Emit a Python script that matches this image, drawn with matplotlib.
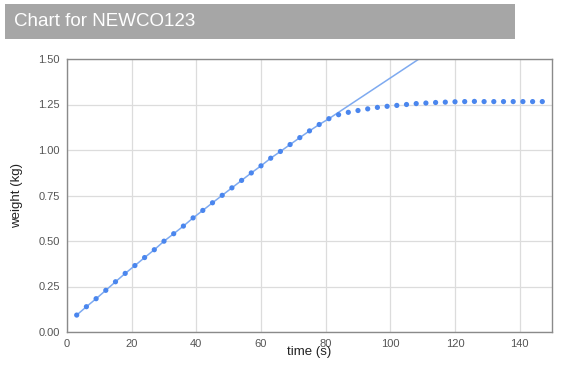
import matplotlib
matplotlib.use('Agg')
import matplotlib.pyplot as plt
from matplotlib.patches import Rectangle

plt.rcParams['font.family'] = ['Liberation Sans', 'DejaVu Sans']

# measured weights, every 3 s
time_s = [3, 6, 9, 12, 15, 18, 21, 24, 27, 30, 33, 36, 39, 42, 45, 48, 51,
          54, 57, 60, 63, 66, 69, 72, 75, 78, 81, 84, 87, 90, 93, 96, 99,
          102, 105, 108, 111, 114, 117, 120, 123, 126, 129, 132, 135, 138,
          141, 144, 147]
weight_kg = [0.093, 0.139, 0.183, 0.229, 0.276, 0.322, 0.365, 0.409, 0.452,
             0.499, 0.540, 0.582, 0.627, 0.668, 0.710, 0.751, 0.792, 0.833,
             0.874, 0.913, 0.955, 0.992, 1.030, 1.068, 1.105, 1.140, 1.172,
             1.194, 1.207, 1.217, 1.226, 1.234, 1.240, 1.245, 1.250, 1.255,
             1.258, 1.261, 1.263, 1.265, 1.266, 1.267, 1.266, 1.266, 1.266,
             1.266, 1.266, 1.266, 1.266]

# model line: follows the linear part, then runs on past the top
model_t = time_s[:27] + [112]
model_w = weight_kg[:27] + [1.537]

xticks = [0, 20, 40, 60, 80, 100, 120, 140]
yticks = [0.00, 0.25, 0.50, 0.75, 1.00, 1.25, 1.50]

fig = plt.figure(figsize=(5.67, 3.67), dpi=100)

# title bar
fig.patches.append(Rectangle((5 / 567, 1 - 39 / 367), 510 / 567, 35 / 367,
                             transform=fig.transFigure, facecolor='#a6a6a6',
                             edgecolor='none'))
fig.text(14 / 567, 1 - 21.5 / 367, 'Chart for NEWCO123', color='white',
         fontsize=13.5, va='center', ha='left')

ax = fig.add_axes([67 / 567, 35 / 367, 485 / 567, 273 / 367])
ax.plot(model_t, model_w, color='#7eaaf0', lw=1.1, zorder=2, clip_on=True)
ax.scatter(time_s, weight_kg, s=14, color='#4a86ee', zorder=3,
           edgecolors='none')

ax.set_xlim(0, 150)
ax.set_ylim(0, 1.5)
ax.set_xticks(xticks)
ax.set_yticks(yticks)
ax.set_yticklabels(['%.2f' % v for v in yticks])
ax.grid(True, color='#dcdcdc', lw=0.9)
ax.set_axisbelow(True)
ax.tick_params(length=0, labelsize=8, colors='#555555', pad=5)
for s in ax.spines.values():
    s.set_color('#8a8a8a')
    s.set_linewidth(1.0)

ax.set_xlabel('time (s)', fontsize=9.5, color='#222222', labelpad=-2)
ax.set_ylabel('weight (kg)', fontsize=9.5, color='#222222', labelpad=11)

fig.savefig('out.png', dpi=100)
